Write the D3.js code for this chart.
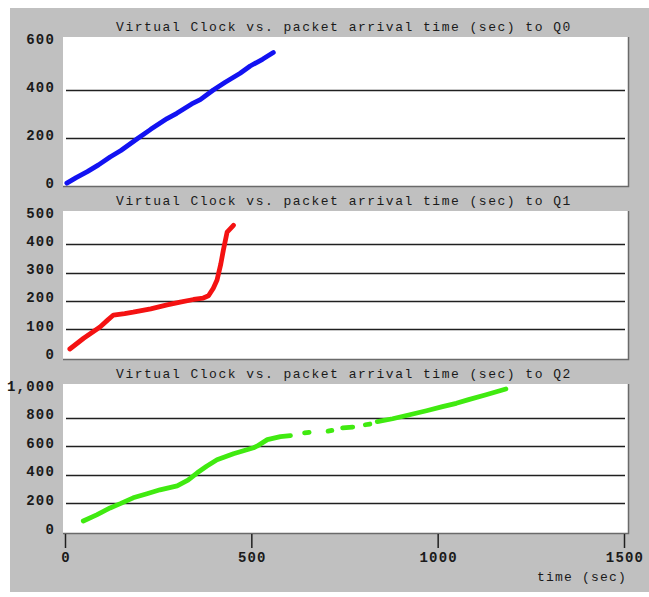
<!DOCTYPE html>
<html>
<head>
<meta charset="utf-8">
<script src="https://cdn.jsdelivr.net/npm/d3@7"></script>
<style>
  html, body { margin: 0; padding: 0; background: #ffffff; }
  svg { display: block; }
  text { font-family: "Liberation Mono", "DejaVu Sans Mono", monospace; fill: #1a1a1a; }
</style>
</head>
<body>
<svg id="chart" width="649" height="597"></svg>
<script>
// Time axis (shared by all three panels)
const timeTicks = [0, 500, 1000, 1500];
const timeLabels = ["0", "500", "1000", "1500"];

// Queue Q0
const q0Time  = [5, 30, 60, 90, 121, 150, 193, 230, 274, 300, 340, 363, 398, 430, 470, 497, 530, 559];
const q0Clock = [12, 35, 60, 88, 121, 148, 196, 236, 281, 303, 342, 360, 400, 432, 470, 500, 528, 556];
const q0Ticks = [0, 200, 400, 600];

// Queue Q1
const q1Time  = [13, 50, 94, 115, 130, 160, 183, 230, 274, 309, 345, 371, 385, 398, 408, 418, 425, 435, 452];
const q1Clock = [30, 68, 108, 133, 150, 155, 160, 172, 186, 196, 205, 210, 218, 245, 274, 330, 380, 443, 467];
const q1Ticks = [0, 100, 200, 300, 400, 500];

// Queue Q2 (null marks a break in the trace)
const q2Time  = [49, 85, 121, 150, 183, 220, 255, 301, 330, 355, 380, 408, 452, 506, 515, 543, 578, 605,
                 null, 643, 655, null, 706, 716, null, 745, 772, null, 806, 818, null,
                 838, 879, 922, 970, 1013, 1050, 1083, 1130, 1183];
const q2Clock = [77, 120, 168, 200, 239, 268, 295, 323, 362, 414, 460, 505, 547, 589, 600, 646, 667, 674,
                 null, 693, 697, null, 705, 710, null, 728, 734, null, 750, 755, null,
                 772, 792, 818, 848, 877, 900, 926, 960, 1000];
const q2Ticks = [0, 200, 400, 600, 800, 1000];

const svg = d3.select("#chart");

// grey frame
svg.append("rect").attr("x", 10).attr("y", 8).attr("width", 639).attr("height", 584).attr("fill", "#c0c0c0");

const x = d3.scaleLinear().domain([0, 1500]).range([65, 624]);

const panels = [
  { title: "Virtual Clock vs. packet arrival time (sec) to Q0", t: q0Time, v: q0Clock, ticks: q0Ticks,
    max: 600, top: 37, bottom: 186, y0: 186, y1: 42, color: "#1212f2", fmt: d3.format("d") },
  { title: "Virtual Clock vs. packet arrival time (sec) to Q1", t: q1Time, v: q1Clock, ticks: q1Ticks,
    max: 500, top: 211, bottom: 359, y0: 357.5, y1: 216, color: "#f41212", fmt: d3.format("d") },
  { title: "Virtual Clock vs. packet arrival time (sec) to Q2", t: q2Time, v: q2Clock, ticks: q2Ticks,
    max: 1000, top: 384, bottom: 533, y0: 532, y1: 389, color: "#40ea10", fmt: d3.format(",") }
];

panels.forEach(p => {
  const y = d3.scaleLinear().domain([0, p.max]).range([p.y0, p.y1]);
  const g = svg.append("g");

  // title
  g.append("text")
    .attr("x", 344).attr("y", p.top - 6)
    .attr("text-anchor", "middle")
    .attr("font-size", 13)
    .attr("letter-spacing", 1.5)
    .text(p.title);

  // plot area with sunken edge on right and bottom
  g.append("rect").attr("x", 63).attr("y", p.top).attr("width", 565).attr("height", p.bottom - p.top)
    .attr("fill", "#ffffff");
  g.append("path")
    .attr("d", `M628.5,${p.top}V${p.bottom + 0.5}H63`)
    .attr("fill", "none").attr("stroke", "#6a6a6a").attr("stroke-width", 1.5);

  // horizontal grid lines at interior ticks
  const inner = p.ticks.filter(d => d > 0 && d < p.max);
  g.selectAll("line.grid").data(inner).join("line")
    .attr("class", "grid")
    .attr("x1", 66).attr("x2", 625)
    .attr("y1", d => Math.round(y(d)) + 0.5).attr("y2", d => Math.round(y(d)) + 0.5)
    .attr("stroke", "#202020").attr("stroke-width", 1.6);

  // value labels
  g.selectAll("text.ylab").data(p.ticks).join("text")
    .attr("class", "ylab")
    .attr("x", 55).attr("y", d => y(d) + 1.5)
    .attr("text-anchor", "end")
    .attr("font-size", 14)
    .attr("font-weight", "bold")
    .attr("letter-spacing", 1.2)
    .text(d => p.fmt(d));

  // trace
  const pts = p.t.map((t, i) => ({ t: t, v: p.v[i] }));
  const line = d3.line()
    .defined(d => d.t !== null && d.v !== null)
    .x(d => x(d.t)).y(d => y(d.v))
    .curve(d3.curveLinear);
  g.append("path")
    .datum(pts)
    .attr("d", line)
    .attr("fill", "none")
    .attr("stroke", p.color)
    .attr("stroke-width", 4.8)
    .attr("stroke-linecap", "round")
    .attr("stroke-linejoin", "round");
});

// time axis below the last panel
const axisG = svg.append("g");
axisG.selectAll("line.xt").data(timeTicks).join("line")
  .attr("class", "xt")
  .attr("x1", d => x(d) + 0.5).attr("x2", d => x(d) + 0.5)
  .attr("y1", 534).attr("y2", 548)
  .attr("stroke", "#202020").attr("stroke-width", 1.5);
axisG.selectAll("text.xl").data(timeTicks).join("text")
  .attr("class", "xl")
  .attr("x", d => x(d) + 1).attr("y", 562)
  .attr("text-anchor", "middle")
  .attr("font-size", 14)
  .attr("font-weight", "bold")
  .attr("letter-spacing", 1.2)
  .text((d, i) => timeLabels[i]);
axisG.append("text")
  .attr("x", 627).attr("y", 581)
  .attr("text-anchor", "end")
  .attr("font-size", 13)
  .attr("letter-spacing", 1.2)
  .text("time (sec)");
</script>
</body>
</html>
